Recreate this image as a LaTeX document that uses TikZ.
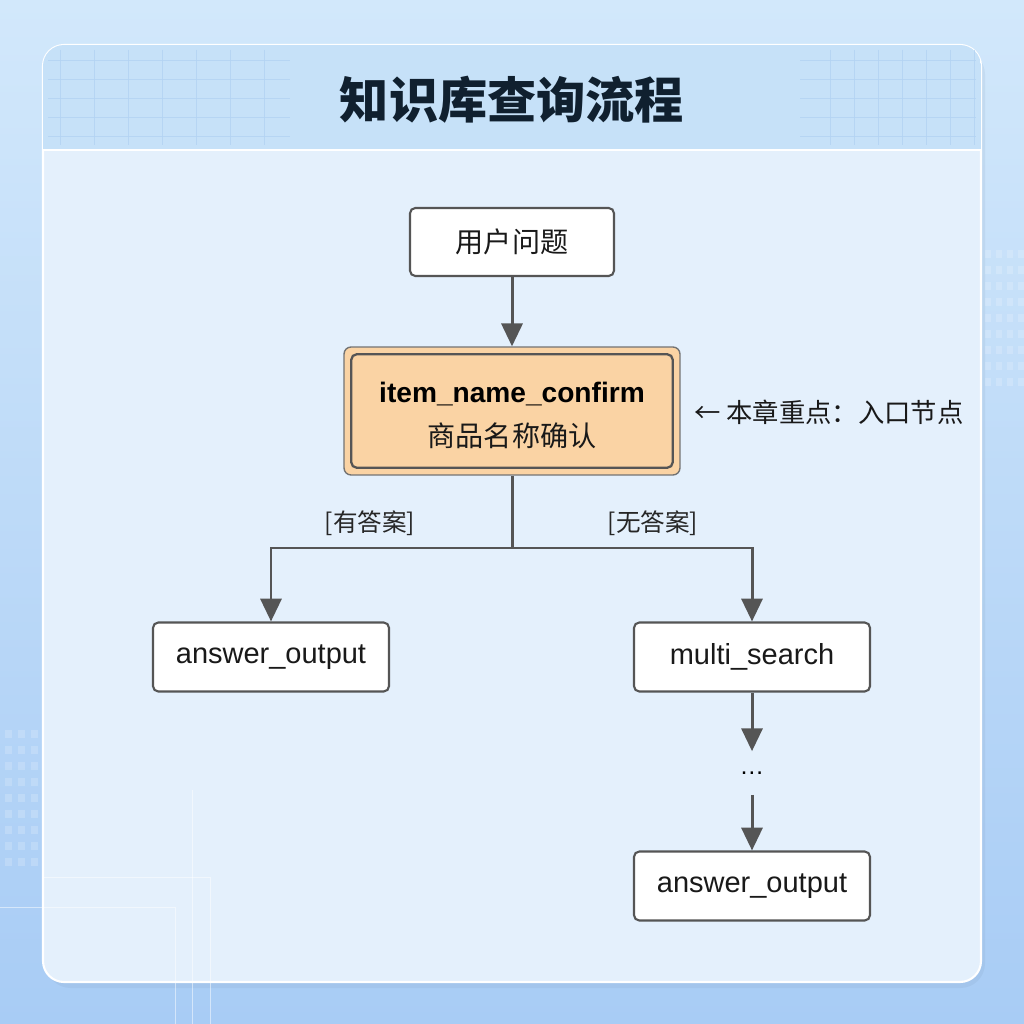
\documentclass[tikz,border=0pt]{standalone}
\usepackage{fontspec}
\setmainfont{Liberation Sans}
\newfontfamily\cjk{Noto Sans CJK SC}
\usetikzlibrary{arrows.meta,calc}

\definecolor{bgtop}{HTML}{D2E8FB}
\definecolor{bgbot}{HTML}{A8CCF5}
\definecolor{cardfill}{HTML}{E4F0FC}
\definecolor{bandfill}{HTML}{C6E1F8}
\definecolor{linegray}{HTML}{555555}
\definecolor{peach}{HTML}{FAD3A4}
\definecolor{titleink}{HTML}{10202F}
\definecolor{gridblue}{HTML}{B3D3F2}

\tikzset{
  box/.style={draw=linegray, line width=1.2pt, fill=white, rounded corners=3pt,
    minimum width=4.72cm, minimum height=1.38cm, inner sep=0pt,
    font=\fontsize{16.5}{18}\selectfont, text=black!90},
  arr/.style={draw=linegray, line width=1.7pt, -{Triangle[width=12pt,length=13pt]}},
  lnk/.style={draw=linegray, line width=1.7pt},
  lbl/.style={font=\cjk\fontsize{14}{16}\selectfont, text=black!85},
}

\begin{document}
\begin{tikzpicture}[x=0.02cm,y=-0.02cm]
	\useasboundingbox (0,0) rectangle (1024,1024);
	% background
	\shade[top color=bgtop, bottom color=bgbot] (0,0) rectangle (1024,1024);
	\foreach \i in {0,...,3} \foreach \j in {0,...,8}
		\fill[white, opacity=0.18] (5+\i*13,730+\j*16) rectangle (12+\i*13,738+\j*16);
	\foreach \i in {0,...,3} \foreach \j in {0,...,8}
		\fill[white, opacity=0.18] (985+\i*11,250+\j*16) rectangle (991+\i*11,258+\j*16);
	% card
	\fill[black!30!bgbot, opacity=0.12, rounded corners=14pt] (46,50) rectangle (985,988);
	\filldraw[fill=cardfill, draw=white, line width=1.2pt, rounded corners=12pt] (43,45) rectangle (981,982);
	\draw[white, opacity=0.5] (0,907) -- (175,907) -- (175,1024);
	\draw[white, opacity=0.5] (192,1024) -- (192,790);
	\draw[white, opacity=0.5] (210,1024) -- (210,877) -- (43,877);
	% header band
	\begin{scope}
		\clip[rounded corners=12pt] (43,45) rectangle (981,400);
		\fill[bandfill] (43,45) rectangle (981,150);
	\end{scope}
	\foreach \i in {0,...,6} {
		\draw[gridblue, opacity=0.8] (60+\i*34,50) -- (60+\i*34,145);
		\draw[gridblue, opacity=0.8] (830+\i*24,50) -- (830+\i*24,145);
	}
	\foreach \j in {0,...,4} {
		\draw[gridblue, opacity=0.8] (48,60+\j*19) -- (290,60+\j*19);
		\draw[gridblue, opacity=0.8] (800,60+\j*19) -- (976,60+\j*19);
	}
	\draw[white, line width=1.5pt] (43,150) -- (981,150);
	\node[font=\cjk\bfseries\fontsize{28}{32}\selectfont, text=titleink] (title) at (512,100) {知识库查询流程};

	% nodes
	\node[box, minimum width=4.08cm, minimum height=1.36cm, font=\cjk\fontsize{16}{18}\selectfont] (question) at (512,242) {用户问题};
	\node[draw=black!55, line width=0.8pt, fill=peach, rounded corners=4pt,
		minimum width=6.72cm, minimum height=2.56cm] (confirm) at (512,411) {};
	\draw[linegray, line width=1.3pt, rounded corners=3pt]
		($(confirm.north west)+(8,8)$) rectangle ($(confirm.south east)+(-8,-8)$);
	\node[font=\bfseries\fontsize{16}{18}\selectfont, text=black] (confirmen) at (512,394) {item\_name\_confirm};
	\node[font=\cjk\fontsize{16}{18}\selectfont, text=black!90] (confirmzh) at (512,436) {商品名称确认};
	\node[anchor=west, font=\cjk\fontsize{15}{18}\selectfont, text=black!90] (note) at (688,412) {← 本章重点：入口节点};

	\coordinate (split) at (512,548);
	\node[box] (answerA) at (271,657) {answer\_output};
	\node[box] (search) at (752,657) {multi\_search};
	\node[inner sep=0pt, minimum height=0.86cm, font=\fontsize{14}{16}\selectfont] (dots) at (752,773) {…};
	\node[box] (answerB) at (752,886) {answer\_output};

	% edges
	\draw[arr] (question) -- (confirm);
	\draw[lnk] (confirm) -- (split);
	\draw[arr] (split) -| (answerA);
	\draw[arr] (split) -| (search);
	\draw[arr] (search) -- (dots);
	\draw[arr] (dots) -- (answerB);
	\node[lbl] (yes) at (370,523) {[有答案]};
	\node[lbl] (no) at (653,523) {[无答案]};
\end{tikzpicture}
\end{document}
